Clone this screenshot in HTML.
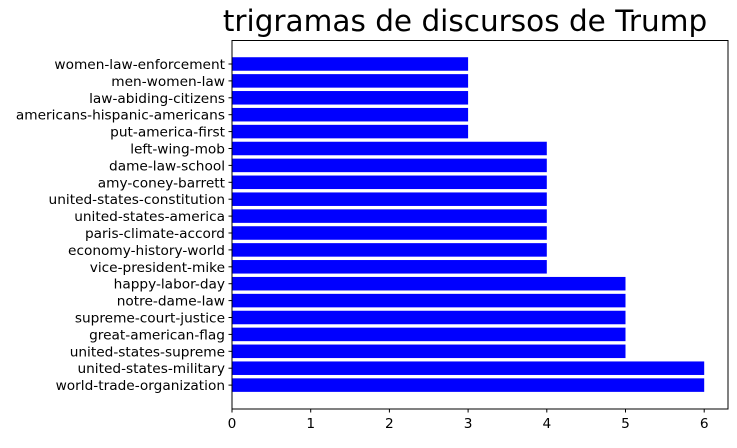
<!DOCTYPE html>
<html><head><meta charset="utf-8"><style>
body{margin:0;background:#fff;}
svg text{font-family:"DejaVu Sans","Liberation Sans",sans-serif;}
</style></head><body>
<svg id="chart" width="737" height="443" xmlns="http://www.w3.org/2000/svg">
<text x="465" y="31" font-size="29.5" text-anchor="middle">trigramas de discursos de Trump</text>
<g id="bars"></g><g id="yticks"></g><g id="xticks"></g>
<rect x="232" y="40.5" width="496" height="368.5" fill="none" stroke="#000" stroke-width="1"/>
</svg>
<script>
const categories=["world-trade-organization","united-states-military","united-states-supreme","great-american-flag","supreme-court-justice","notre-dame-law","happy-labor-day","vice-president-mike","economy-history-world","paris-climate-accord","united-states-america","united-states-constitution","amy-coney-barrett","dame-law-school","left-wing-mob","put-america-first","americans-hispanic-americans","law-abiding-citizens","men-women-law","women-law-enforcement"];
const values=[6,6,5,5,5,5,5,4,4,4,4,4,4,4,4,3,3,3,3,3];
const xTicks=[0,1,2,3,4,5,6];
const NS="http://www.w3.org/2000/svg";
const x=v=>232+v*78.7;
const band=(408.6-40.5)/((categories.length-1)+2.78);
const y=i=>408.6-(i+1.39)*band;
const bars=document.getElementById('bars'),yt=document.getElementById('yticks'),xt=document.getElementById('xticks');
categories.forEach((c,i)=>{
 const r=document.createElementNS(NS,'rect');
 
 
 r.setAttribute('x',x(0));r.setAttribute('width',x(values[i])-x(0));
 r.setAttribute('y',y(i)-0.4*band);r.setAttribute('height',0.8*band);r.setAttribute('fill','#0000ff');
 bars.appendChild(r);
 const l=document.createElementNS(NS,'line');
 
 
 l.setAttribute('x1',228.5);l.setAttribute('x2',232);l.setAttribute('y1',y(i));l.setAttribute('y2',y(i));l.setAttribute('stroke','#000');
 yt.appendChild(l);
 const t=document.createElementNS(NS,'text');
 
 
 t.setAttribute('x',225);t.setAttribute('y',y(i)+5);t.setAttribute('text-anchor','end');t.setAttribute('font-size','13.7');
 t.textContent=c;yt.appendChild(t);
});
xTicks.forEach(v=>{
 const l=document.createElementNS(NS,'line');
 
 
 l.setAttribute('x1',x(v));l.setAttribute('x2',x(v));l.setAttribute('y1',409);l.setAttribute('y2',412.5);l.setAttribute('stroke','#000');
 xt.appendChild(l);
 const t=document.createElementNS(NS,'text');
 
 
 t.setAttribute('x',x(v));t.setAttribute('y',428);t.setAttribute('text-anchor','middle');t.setAttribute('font-size','13.7');
 t.textContent=v;xt.appendChild(t);
});
</script>
</body></html>
